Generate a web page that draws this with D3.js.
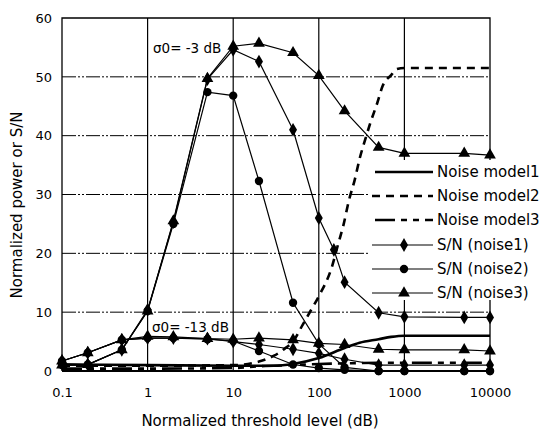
<!DOCTYPE html>
<html><head><meta charset="utf-8">
<script src="https://cdn.jsdelivr.net/npm/d3@7"></script>
<style>body{margin:0;background:#fff}svg{display:block}text{font-family:"DejaVu Sans",sans-serif;fill:#000}</style>
</head><body><svg id="c" width="542" height="434"></svg>
<script>
// ---- data ----
const xTicks = [0.1, 1, 10, 100, 1000, 10000];
const xTickLabels = ["0.1", "1", "10", "100", "1000", "10000"];
const yTicks = [0, 10, 20, 30, 40, 50, 60];

const thr = [0.1, 0.2, 0.5, 1, 2, 5, 10, 20, 50, 100, 200, 500, 1000, 5000, 10000];
const thr1Hi = [0.1, 0.2, 0.5, 1, 2, 5, 10, 20, 50, 100, 150, 200, 500, 1000, 5000, 10000];

// sigma0 = -3 dB
const sn1Hi = [1.2, 1.1, 3.6, 10.4, 25.3, 49.6, 54.6, 52.6, 41.0, 26.0, 20.6, 15.1, 9.9, 9.2, 9.1, 9.1];
const sn2Hi = [1.0, 1.1, 3.6, 10.2, 25.0, 47.4, 46.8, 32.3, 11.6, 4.6, 0.6, 0.0, 0.0, 0.0, 0.0];
const sn3Hi = [1.0, 1.1, 3.6, 10.2, 25.5, 49.7, 55.2, 55.7, 54.1, 50.2, 44.2, 38.0, 37.0, 37.0, 36.7];
// sigma0 = -13 dB
const sn1Lo = [1.7, 3.1, 5.3, 5.6, 5.6, 5.5, 5.0, 4.5, 3.7, 3.0, 2.0, 1.0, 1.0, 1.0, 1.0];
const sn2Lo = [1.7, 3.1, 5.3, 5.6, 5.6, 5.4, 5.1, 3.4, 1.1, 0.5, 0.2, 0.0, 0.0, 0.0, 0.0];
const sn3Lo = [1.7, 3.1, 5.3, 5.9, 5.8, 5.5, 5.4, 5.6, 5.3, 4.7, 4.5, 3.7, 3.6, 3.6, 3.4];

// noise models (normalized power)
const nm1X = [0.1, 1, 10, 30, 50, 100, 200, 300, 500, 700, 1000, 10000];
const nm1Y = [1.1, 1.0, 0.9, 0.9, 1.2, 2.2, 3.9, 4.8, 5.4, 5.8, 6.0, 6.0];
const nm2X = [0.1, 1, 10, 20, 30, 40, 50, 65, 80, 100, 143, 167, 194, 225, 262, 300, 346, 405, 483, 555, 700, 813, 1000, 10000];
const nm2Y = [0.9, 0.9, 1.0, 1.6, 2.6, 3.8, 5.0, 7.9, 10.2, 12.7, 17.8, 21.4, 24.8, 29.0, 32.4, 36.1, 39.2, 42.4, 45.6, 48.4, 50.3, 51.3, 51.5, 51.5];
const nm3X = [0.1, 1, 10, 20, 50, 100, 200, 500, 1000, 10000];
const nm3Y = [0.4, 0.4, 0.5, 0.8, 1.0, 1.2, 1.3, 1.4, 1.4, 1.4];

const legendLabels = ["Noise model1", "Noise model2", "Noise model3", "S/N (noise1)", "S/N (noise2)", "S/N (noise3)"];

// ---- drawing ----
const svg = d3.select("#c");
const L = 62, R = 490, T = 18, B = 371;
const x = d3.scaleLog().domain([0.1, 10000]).range([L, R]);
const y = d3.scaleLinear().domain([0, 60]).range([B, T]);

// grid
svg.append("g").selectAll("line").data([10, 20, 30, 40, 50]).join("line")
  .attr("x1", L).attr("x2", R).attr("y1", d => y(d)).attr("y2", d => y(d))
  .attr("stroke", "#000").attr("stroke-width", 1).attr("stroke-dasharray", "14 2 2 2 2 2");
svg.append("g").selectAll("line").data([1, 10, 100, 1000]).join("line")
  .attr("x1", d => x(d)).attr("x2", d => x(d)).attr("y1", T).attr("y2", B)
  .attr("stroke", "#000").attr("stroke-width", 1.2);
// frame
svg.append("path").attr("d", `M${L},${B}V${T}H${R}V${B}`).attr("fill", "none").attr("stroke", "#000").attr("stroke-width", 1.3);
svg.append("line").attr("x1", L).attr("x2", R).attr("y1", B).attr("y2", B).attr("stroke", "#000").attr("stroke-width", 2);

// axes (tick labels via d3 axes, domain/ticks hidden)
const xAxis = d3.axisBottom(x).tickValues(xTicks).tickFormat((d, i) => xTickLabels[i]).tickSize(0).tickPadding(17);
const gx = svg.append("g").attr("transform", `translate(0,${B})`).call(xAxis);
gx.select(".domain").remove();
gx.selectAll("text").style("font-size", "13px").style("font-family", "DejaVu Sans");
const yAxis = d3.axisLeft(y).tickValues(yTicks).tickSize(0).tickPadding(10);
const gy = svg.append("g").attr("transform", `translate(${L},0)`).call(yAxis);
gy.select(".domain").remove();
gy.selectAll("text").style("font-size", "13px").style("font-family", "DejaVu Sans");

// lines
const lineOf = (xs, ys, curve) => d3.line().x((d, i) => x(xs[i])).y(d => y(d)).curve(curve || d3.curveLinear)(ys);
const nmStyles = [
  {xs: nm1X, ys: nm1Y, dash: null},
  {xs: nm2X, ys: nm2Y, dash: "8 6"},
  {xs: nm3X, ys: nm3Y, dash: "20 6 6 6 6 6"}
];
nmStyles.forEach(s => {
  svg.append("path").attr("d", lineOf(s.xs, s.ys, d3.curveMonotoneX)).attr("fill", "none")
    .attr("stroke", "#000").attr("stroke-width", 2.6).attr("stroke-dasharray", s.dash);
});

const symD = d3.symbol().type(d3.symbolDiamond).size(55);
const symC = d3.symbol().type(d3.symbolCircle).size(55);
const symT = d3.symbol().type(d3.symbolTriangle).size(60);
const snSeries = [
  {xs: thr, ys: sn3Lo, sym: symT},
  {xs: thr, ys: sn2Lo, sym: symC},
  {xs: thr, ys: sn1Lo, sym: symD},
  {xs: thr, ys: sn3Hi, sym: symT},
  {xs: thr, ys: sn2Hi, sym: symC},
  {xs: thr1Hi, ys: sn1Hi, sym: symD}
];
snSeries.forEach(s => {
  svg.append("path").attr("d", lineOf(s.xs, s.ys)).attr("fill", "none").attr("stroke", "#000").attr("stroke-width", 1.2);
  svg.append("g").selectAll("path").data(s.ys).join("path")
    .attr("transform", (d, i) => `translate(${x(s.xs[i])},${y(d)})`).attr("d", s.sym()).attr("fill", "#000");
});

// annotations
svg.append("text").attr("x", 153).attr("y", 53).style("font-size", "13.5px").text("σ0= -3 dB");
svg.append("text").attr("x", 152).attr("y", 332).style("font-size", "13.5px").text("σ0= -13 dB");

// legend
svg.append("rect").attr("x", 370).attr("y", 160).attr("width", 172).attr("height", 140).attr("fill", "#fff");
const rows = [172, 196, 220, 245, 269, 293];
const legSyms = [null, null, null, symD, symC, symT];
const legDash = [null, "8 6", "20 6 6 6 6 6"];
const legX1 = [375, 372, 375, 372, 372, 372];
legendLabels.forEach((lab, i) => {
  const g = svg.append("g");
  g.append("line").attr("x1", legX1[i]).attr("x2", 433).attr("y1", rows[i]).attr("y2", rows[i])
    .attr("stroke", "#000").attr("stroke-width", i < 3 ? 2.6 : 1.2).attr("stroke-dasharray", i < 3 ? legDash[i] : null);
  if (legSyms[i]) g.append("path").attr("transform", `translate(404,${rows[i]})`).attr("d", legSyms[i]()).attr("fill", "#000");
  g.append("text").attr("x", 437).attr("y", rows[i]).attr("dy", "0.35em").style("font-size", "15px").text(lab);
});

// axis titles
svg.append("text").attr("x", 260).attr("y", 421).attr("dy", "0.35em").attr("text-anchor", "middle").style("font-size", "15px").text("Normalized threshold level (dB)");
svg.append("text").attr("transform", "translate(17,205) rotate(-90)").attr("dy", "0.35em").attr("text-anchor", "middle").style("font-size", "15px").text("Normalized power or S/N");
</script></body></html>
